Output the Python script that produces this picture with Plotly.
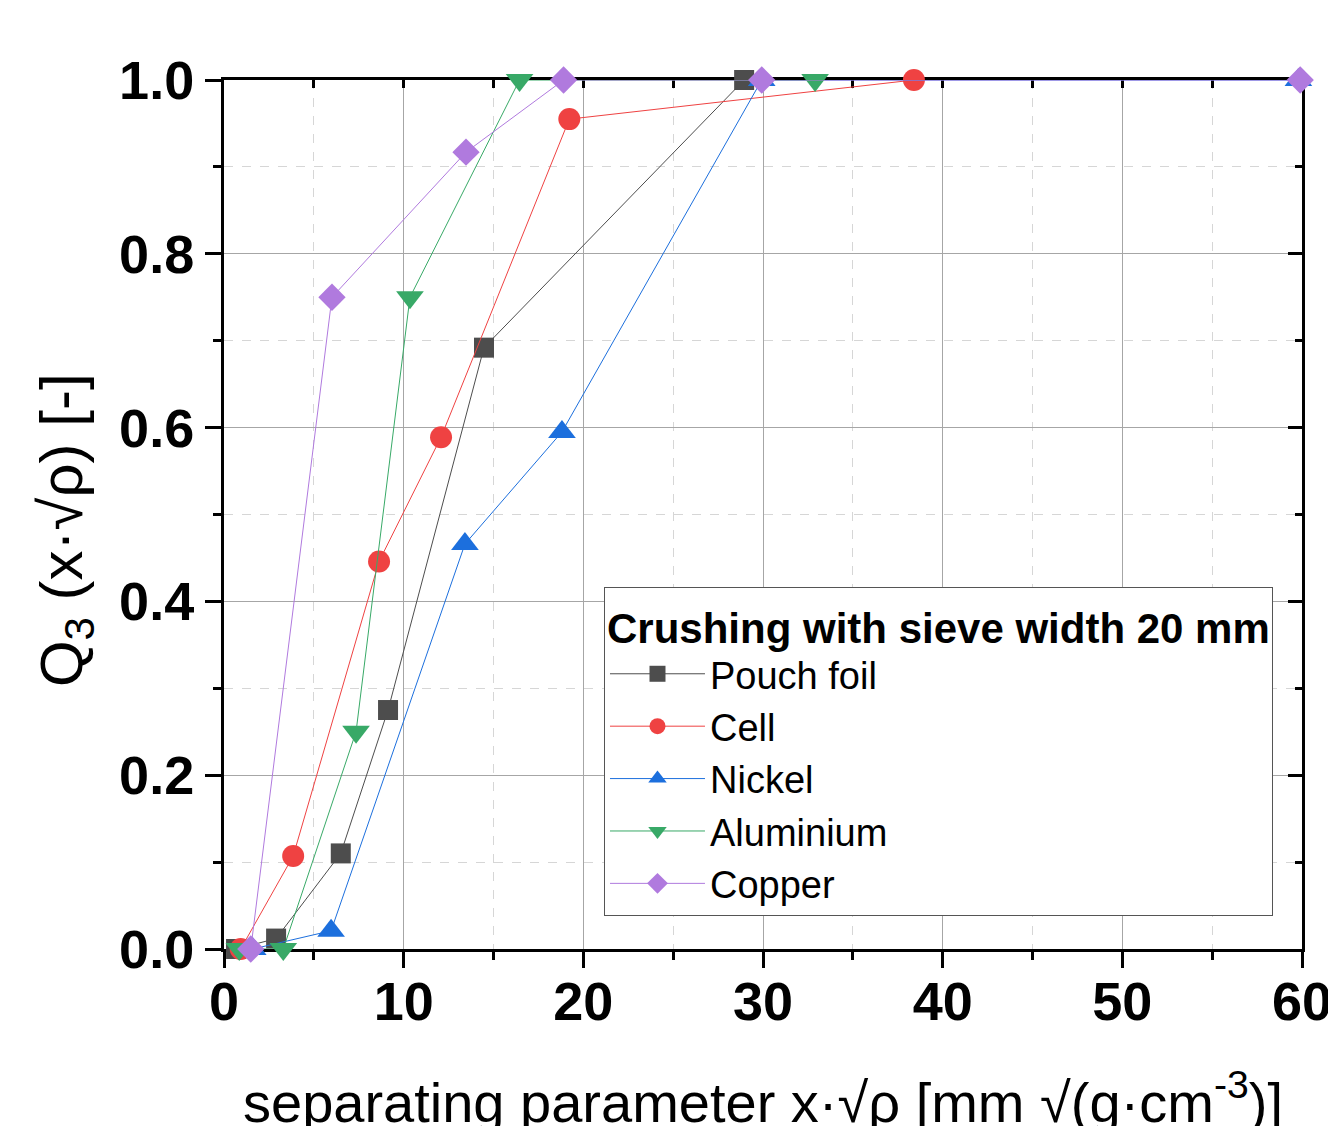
import plotly.graph_objects as go

# ---- data ----
pouch_x = [0.67, 2.9, 6.5, 9.13, 14.47, 28.95]
pouch_y = [0.0, 0.012, 0.11, 0.275, 0.692, 1.0]

cell_x = [0.93, 3.85, 8.63, 12.08, 19.22, 38.4]
cell_y = [0.0, 0.107, 0.446, 0.589, 0.955, 1.0]

nickel_x = [1.6, 5.96, 13.41, 18.81, 29.93, 59.8]
nickel_y = [0.0, 0.021, 0.466, 0.595, 1.0, 1.0]

alu_x = [0.85, 3.3, 7.35, 10.35, 16.45, 32.9]
alu_y = [0.0, 0.0, 0.25, 0.75, 1.0, 1.0]

copper_x = [1.49, 6.01, 13.47, 18.9, 29.93, 59.9]
copper_y = [0.0, 0.75, 0.917, 1.0, 1.0, 1.0]

series_names = ["Pouch foil", "Cell", "Nickel", "Aluminium", "Copper"]
x_tickvals = [0, 10, 20, 30, 40, 50, 60]
y_tickvals = [0.0, 0.2, 0.4, 0.6, 0.8, 1.0]
legend_title = "Crushing with sieve width 20 mm"
x_title = "separating parameter x·√ρ [mm √(g·cm<sup>-3</sup>)]"
y_title = "Q<sub>3</sub> (x·√ρ) [-]"

FONT = "Liberation Sans, Arial, sans-serif"

styles = [
    dict(color="#4d4d4d", symbol="square", size=20),
    dict(color="#ef4242", symbol="circle", size=22),
    dict(color="#1c6fdd", symbol="triangle-up", size=24),
    dict(color="#38a967", symbol="triangle-down", size=24),
    dict(color="#b07ade", symbol="diamond", size=21),
]
data = [(pouch_x, pouch_y), (cell_x, cell_y), (nickel_x, nickel_y),
        (alu_x, alu_y), (copper_x, copper_y)]

fig = go.Figure()
for name, (xs, ys), st in zip(series_names, data, styles):
    fig.add_trace(go.Scatter(
        x=xs, y=ys, name=name, mode="lines+markers",
        line=dict(color=st["color"], width=1),
        marker=dict(color=st["color"], symbol=st["symbol"], size=st["size"],
                    line=dict(width=0)),
        cliponaxis=False,
    ))

# dummy trace for overlay axes (top / right)
fig.add_trace(go.Scatter(x=[None], y=[None], xaxis="x2", yaxis="y2",
                         showlegend=False, hoverinfo="skip"))

tickfont = dict(family=FONT, size=54, color="black", weight="bold")

fig.update_layout(
    width=1336, height=1126,
    margin=dict(l=216, r=42, t=72, b=185, autoexpand=False),
    paper_bgcolor="white", plot_bgcolor="white",
    font=dict(family=FONT, color="black"),
    showlegend=True,
    legend=dict(
        x=0.3525, y=0.4166, xanchor="left", yanchor="top",
        bgcolor="white", bordercolor="#555555", borderwidth=1,
        font=dict(family=FONT, size=38, color="black"),
        title=dict(text="<b>" + legend_title + "</b>",
                   font=dict(family=FONT, size=42, color="black"),
                   side="top"),
        itemwidth=95, tracegroupgap=0,
    ),
    annotations=[dict(
        text=y_title, textangle=-90, xref="paper", yref="paper",
        x=-0.1466, y=0.482, xanchor="center", yanchor="middle",
        showarrow=False, font=dict(family=FONT, size=60, color="black"),
    )],
    xaxis=dict(
        range=[0, 60], tickvals=x_tickvals, ticks="outside", ticklen=16,
        tickwidth=3, tickcolor="black", showline=True, linewidth=3,
        linecolor="black", showgrid=True, gridcolor="#a6a6a6", gridwidth=1,
        zeroline=False, tickfont=tickfont, layer="below traces",
        automargin=False, ticklabelstandoff=-13,
        minor=dict(dtick=5, tick0=0, ticks="outside", ticklen=8, tickwidth=3,
                   tickcolor="black", showgrid=True, gridcolor="#d6d6d6",
                   griddash="dash", gridwidth=1),
        title=dict(text=x_title, font=dict(family=FONT, size=56, color="black"),
                   standoff=68),
    ),
    yaxis=dict(
        range=[0, 1], tickvals=y_tickvals, tickformat=".1f", ticks="outside",
        ticklen=16, tickwidth=3, tickcolor="black", showline=True, linewidth=3,
        linecolor="black", showgrid=True, gridcolor="#a6a6a6", gridwidth=1,
        zeroline=False, tickfont=tickfont, layer="below traces",
        automargin=False,
        minor=dict(dtick=0.1, tick0=0, ticks="outside", ticklen=8, tickwidth=3,
                   tickcolor="black", showgrid=True, gridcolor="#d6d6d6",
                   griddash="dash", gridwidth=1),
    ),
    xaxis2=dict(
        overlaying="x", anchor="y2", side="top", range=[0, 60],
        tickvals=x_tickvals, ticks="inside", ticklen=8, tickwidth=3,
        tickcolor="black", showticklabels=False, showline=True, linewidth=3,
        linecolor="black", showgrid=False, zeroline=False, layer="below traces",
        automargin=False,
        minor=dict(dtick=5, tick0=0, ticks="inside", ticklen=8, tickwidth=3,
                   tickcolor="black", showgrid=False),
    ),
    yaxis2=dict(
        overlaying="y", anchor="x2", side="right", range=[0, 1],
        tickvals=y_tickvals, ticks="inside", ticklen=14, tickwidth=3,
        tickcolor="black", showticklabels=False, showline=True, linewidth=3,
        linecolor="black", showgrid=False, zeroline=False, layer="below traces",
        automargin=False,
        minor=dict(dtick=0.1, tick0=0, ticks="inside", ticklen=7, tickwidth=3,
                   tickcolor="black", showgrid=False),
    ),
)

fig.write_html("out.html")
